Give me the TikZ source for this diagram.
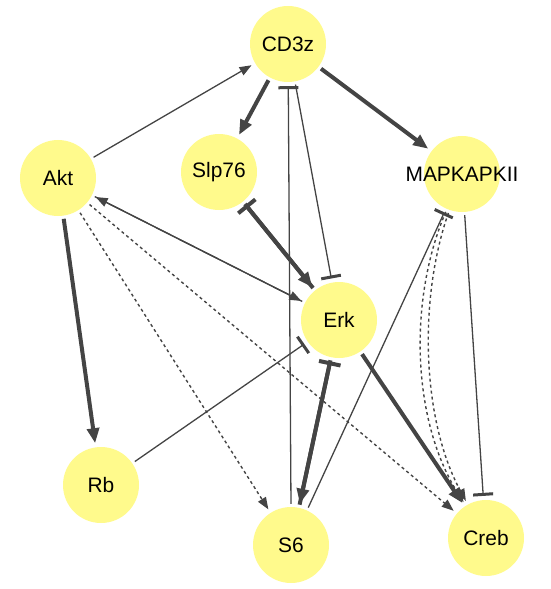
\documentclass[tikz,border=0pt]{standalone}
\usepackage{fontspec}
\setmainfont{Liberation Sans}
\usetikzlibrary{arrows.meta}
\definecolor{genefill}{HTML}{FFFA8C}
\definecolor{edgegray}{HTML}{444444}
\tikzset{
  gene/.style={circle, fill=genefill, minimum size=76bp, inner sep=0pt,
    label={[font=\fontsize{21}{25}\selectfont]center:#1}},
  edge/.style={draw=edgegray, line width=1.3bp, shorten >=4bp, shorten <=3bp},
  act/.style={edge, -{Triangle[length=12bp,width=9bp]}},
  actthick/.style={edge, line width=4bp, -{Triangle[length=15bp,width=12bp]}},
  inh/.style={edge, -{Bar[width=20bp,line width=3bp]}},
  inhthick/.style={edge, line width=4bp, -{Bar[width=22bp,line width=4bp]}},
  dashact/.style={act, line width=1.4bp, dash pattern=on 3bp off 3bp}
}
\begin{document}
\begin{tikzpicture}[x=1bp,y=-1bp]
\useasboundingbox (0,0) rectangle (551,589);
% nodes
\node[gene=CD3z] (cd3z) at (288,44) {};
\node[gene=Akt] (akt) at (58,178) {};
\node[gene=Slp76] (slp) at (219,172) {};
\node[gene=MAPKAPKII] (mapk) at (462,174) {};
\node[gene=Erk] (erk) at (339,320) {};
\node[gene=Rb] (rb) at (101,485) {};
\node[gene=S6] (s6) at (291,545) {};
\node[gene=Creb] (creb) at (486,538) {};
% activations
\draw[act] (akt) -- (cd3z);
\draw[actthick] (cd3z) -- (slp);
\draw[actthick] (cd3z) -- (mapk);
\draw[actthick] (slp) -- (erk);
\draw[act] (akt) -- (erk);
\draw[act] (erk) -- (akt);
\draw[actthick] (akt) -- (rb);
\draw[actthick] (erk) -- (s6);
\draw[actthick] (erk) -- (creb);
\draw[dashact] (akt) -- (s6);
\draw[dashact] (akt) -- (creb);
\draw[dashact] (mapk) .. controls (408,300) and (412,420) .. (creb);
\draw[dashact] (mapk) .. controls (418,300) and (422,420) .. (creb);
% inhibitions
\draw[inh] (s6.north) -- (cd3z);
\draw[inh] (cd3z) -- (erk);
\draw[inhthick] (erk) -- (slp);
\draw[inh] (rb) -- (erk);
\draw[inhthick] (s6) -- (erk);
\draw[inh] (s6) -- (mapk);
\draw[inh] (mapk) -- (creb);
\end{tikzpicture}
\end{document}
